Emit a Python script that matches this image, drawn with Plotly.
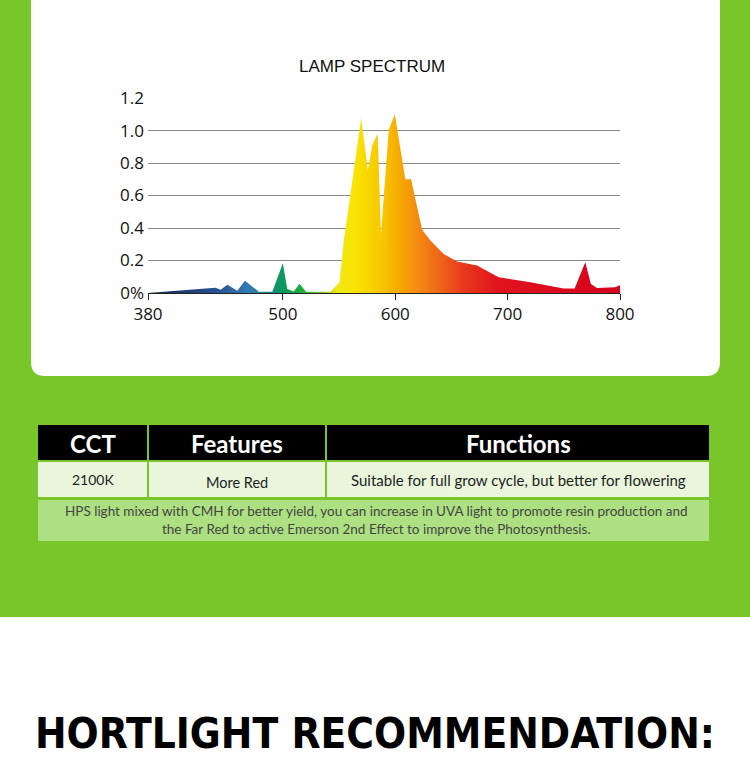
import plotly.graph_objects as go

W, H = 750, 770

# ---------------- data ----------------
wavelength = [380, 440, 444.6, 450.6, 459.5, 466.2, 478.7, 490.6, 500, 503.9, 509.8,
              514.8, 520.8, 542.4, 550.4, 554.2, 560.2, 569.7, 575.6, 579.5, 584.4,
              587.3, 594.2, 599.6, 609, 614.1, 623.9, 631.3, 643.1, 655, 672.8, 692,
              720.2, 749.8, 759.6, 769.1, 774.1, 779.5, 795.7, 800]
intensity = [0.0, 0.033, 0.02, 0.051, 0.014, 0.076, 0.008, 0.008, 0.183, 0.025, 0.01,
             0.057, 0.008, 0.008, 0.066, 0.32, 0.61, 1.076, 0.756, 0.91, 0.98,
             0.36, 1.004, 1.10, 0.70, 0.70, 0.39, 0.323, 0.24, 0.194, 0.169, 0.097,
             0.066, 0.027, 0.027, 0.19, 0.056, 0.031, 0.035, 0.047]

x_ticks = [380, 500, 600, 700, 800]
y_ticks = [0, 0.2, 0.4, 0.6, 0.8, 1.0, 1.2]
y_tick_labels = ["0%", "0.2", "0.4", "0.6", "0.8", "1.0", "1.2"]

chart_title = "LAMP SPECTRUM"
table_headers = ["CCT", "Features", "Functions"]
table_row = ["2100K", "More Red", "Suitable for full grow cycle, but better for flowering"]
table_note = ("HPS light mixed with CMH for better yield, you can increase in UVA light to promote resin production and<br>"
              "the Far Red to active Emerson 2nd Effect to improve the Photosynthesis.")
heading = "HORTLIGHT RECOMMENDATION:"

spectrum_colors = [
    [0.00, "#13234a"], [0.14, "#28508e"], [0.21, "#3379b2"], [0.26, "#1b8a80"],
    [0.286, "#0a9a5c"], [0.32, "#18a83e"], [0.375, "#90d030"], [0.40, "#f0e818"],
    [0.44, "#f8e400"], [0.50, "#f8c400"], [0.53, "#f6ab00"], [0.57, "#f48c10"],
    [0.62, "#ef6418"], [0.67, "#e8381c"], [0.74, "#e0141e"], [1.00, "#d6001c"],
]

# ---------------- helpers ----------------
def xp(x):
    return x / W


def yp(y):
    return 1 - y / H


GREEN = "#79c62b"

shapes = []
shapes.append(dict(type="rect", xref="paper", yref="paper", x0=-0.05, x1=1.05, y0=-0.05, y1=yp(617),
                   fillcolor="white", line_width=0, layer="below"))
shapes.append(dict(type="rect", xref="paper", yref="paper", x0=-0.05, x1=1.05, y0=yp(617), y1=1.05,
                   fillcolor=GREEN, line_width=0, layer="below"))


def rounded_path(x0, y0, x1, y1, r):
    X0, X1 = xp(x0), xp(x1)
    Y0, Y1 = yp(y0), yp(y1)
    rx, ry = r / W, r / H
    return (f"M {X0+rx},{Y0} L {X1-rx},{Y0} Q {X1},{Y0} {X1},{Y0-ry} "
            f"L {X1},{Y1+ry} Q {X1},{Y1} {X1-rx},{Y1} L {X0+rx},{Y1} "
            f"Q {X0},{Y1} {X0},{Y1+ry} L {X0},{Y0-ry} Q {X0},{Y0} {X0+rx},{Y0} Z")

shapes.append(dict(type="path", xref="paper", yref="paper", path=rounded_path(31, -14, 720, 376, 14),
                   fillcolor="white", line_width=0, layer="below"))

col_edges = [(38, 147), (149, 325), (327, 709)]
for (a, b) in col_edges:
    shapes.append(dict(type="rect", xref="paper", yref="paper", x0=xp(a), x1=xp(b),
                       y0=yp(460), y1=yp(425), fillcolor="black", line_width=0, layer="below"))
    shapes.append(dict(type="rect", xref="paper", yref="paper", x0=xp(a), x1=xp(b),
                       y0=yp(497), y1=yp(462), fillcolor="#e9f6dc", line_width=0, layer="below"))
shapes.append(dict(type="rect", xref="paper", yref="paper", x0=xp(38), x1=xp(709),
                   y0=yp(541), y1=yp(500), fillcolor="#ade081", line_width=0, layer="below"))

annotations = []
annotations.append(dict(text=chart_title, x=xp(372), y=yp(67), xref="paper", yref="paper",
                        showarrow=False, xanchor="center", yanchor="middle",
                        font=dict(family="Liberation Sans", size=17, color="#111")))
centers = [(a + b) / 2 for a, b in col_edges]
for c, t in zip(centers, table_headers):
    annotations.append(dict(text=t, x=xp(c), y=yp(443), xref="paper", yref="paper",
                            showarrow=False, xanchor="center", yanchor="middle",
                            font=dict(family="Lato", size=24, color="white", weight="bold")))
row_y = [479, 482, 480]
row_sizes = [14, 14.5, 15]
for c, t, ry, fs in zip(centers, table_row, row_y, row_sizes):
    annotations.append(dict(text=t, x=xp(c), y=yp(ry), xref="paper", yref="paper",
                            showarrow=False, xanchor="center", yanchor="middle",
                            font=dict(family="Lato", size=fs, color="#222")))
annotations.append(dict(text=table_note, x=xp(376), y=yp(520), xref="paper", yref="paper",
                        showarrow=False, xanchor="center", yanchor="middle", align="center",
                        font=dict(family="Lato", size=13.5, color="#444")))
annotations.append(dict(text=heading, x=xp(375), y=yp(733), xref="paper", yref="paper",
                        showarrow=False, xanchor="center", yanchor="middle",
                        font=dict(family="DejaVu Sans Condensed", size=42, color="black", weight="bold")))

fig = go.Figure()
fig.add_trace(go.Scatter(
    x=wavelength, y=intensity, mode="lines", line=dict(width=0), fill="tozeroy",
    fillgradient=dict(type="horizontal", colorscale=spectrum_colors, start=380, stop=800),
    hoverinfo="skip", showlegend=False,
))

fig.update_layout(
    width=W, height=H, margin=dict(l=0, r=0, t=0, b=0, pad=0, autoexpand=False),
    paper_bgcolor="white", plot_bgcolor="rgba(0,0,0,0)",
    shapes=shapes, annotations=annotations, showlegend=False,
    xaxis=dict(domain=[xp(148), xp(620)], range=[380, 800], tickvals=x_ticks, automargin=False,
               showgrid=False, zeroline=False, showline=True, linecolor="#222", linewidth=1,
               ticks="outside", ticklen=6, tickcolor="#222", tickwidth=1,
               tickfont=dict(family="Open Sans", size=17, color="#111")),
    yaxis=dict(domain=[yp(293), yp(98)], range=[0, 1.2005], tickvals=y_ticks, ticktext=y_tick_labels,
               automargin=False, ticklabelstandoff=3,
               showgrid=True, gridcolor="#8a8a8a", gridwidth=1, zeroline=False, showline=False,
               ticks="", tickfont=dict(family="Open Sans", size=17, color="#111")),
)

fig.write_html("out.html", config={"displayModeBar": False},
               post_script="document.body.style.margin='0';document.body.style.padding='0';")
